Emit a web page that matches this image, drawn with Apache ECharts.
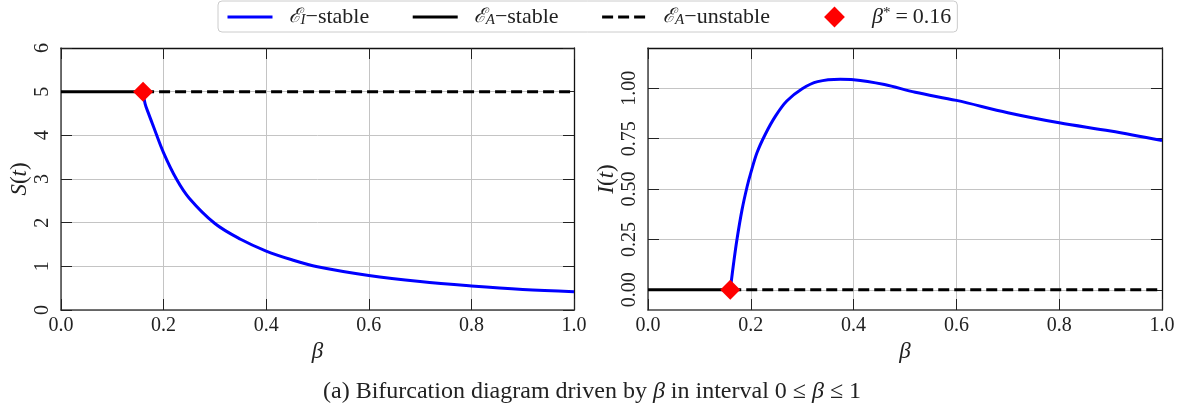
<!DOCTYPE html>
<html><head><meta charset="utf-8">
<script src="https://cdn.jsdelivr.net/npm/echarts@6/dist/echarts.min.js"></script>
<style>html,body{margin:0;padding:0;background:#fff}#c{width:1188px;height:408px}</style>
</head><body><div id="c"></div>
<script>
// ---- data ----
const betaStar = 0.16;
const sDiseaseFree = 5;     // S level of E_A
const iDiseaseFree = 0;     // I level of E_A
const sBeta   = [0.16, 0.164, 0.17, 0.18, 0.20, 0.225, 0.25, 0.30, 0.35, 0.40, 0.45, 0.50, 0.60, 0.70, 0.80, 0.90, 1.00];
const sValues = [5.00, 4.72, 4.52, 4.21, 3.60, 3.00, 2.56, 1.98, 1.62, 1.35, 1.15, 0.99, 0.79, 0.65, 0.55, 0.47, 0.42];
const iBeta   = [0.16, 0.1666, 0.173, 0.183, 0.193, 0.20, 0.212, 0.228, 0.248, 0.27, 0.30, 0.33, 0.374, 0.40, 0.46, 0.52, 0.60, 0.70, 0.80, 0.90, 1.00];
const iValues = [0.00, 0.133, 0.249, 0.398, 0.514, 0.58, 0.68, 0.771, 0.862, 0.937, 0.998, 1.033, 1.045, 1.043, 1.019, 0.98, 0.94, 0.879, 0.829, 0.788, 0.741];
const xTicks = [0, 0.2, 0.4, 0.6, 0.8, 1.0];
const sTicks = [0, 1, 2, 3, 4, 5, 6];
const iTicks = [0, 0.25, 0.5, 0.75, 1.0];

// ---- chart ----
const FF = '"Liberation Serif", "DejaVu Serif", serif';
const TXT = '#222';
const GRIDC = '#c4c4c4';

function bottomX(grid) {
  return {
    type: 'value', gridIndex: grid, position: 'bottom',
    min: xTicks[0], max: xTicks[xTicks.length - 1], interval: 0.2,
    axisLine: { show: true, onZero: false, lineStyle: { color: '#444', width: 1.5 } },
    axisTick: { show: true, inside: true, length: 11, lineStyle: { color: '#222', width: 1 } },
    axisLabel: { margin: 6, fontFamily: FF, fontSize: 20, color: TXT, formatter: v => v.toFixed(1) },
    splitLine: { show: true, lineStyle: { color: GRIDC, width: 1 } },
    name: 'β', nameLocation: 'middle', nameGap: 28,
    nameTextStyle: { fontFamily: FF, fontStyle: 'italic', fontSize: 23, color: TXT }
  };
}
function topX(grid) {
  return {
    type: 'value', gridIndex: grid, position: 'top',
    min: xTicks[0], max: xTicks[xTicks.length - 1], interval: 0.2,
    axisLine: { show: true, onZero: false, lineStyle: { color: '#111', width: 1.3 } },
    axisTick: { show: true, inside: true, length: 11, lineStyle: { color: '#222', width: 1 } },
    axisLabel: { show: false }, splitLine: { show: false }
  };
}
function yPair(grid, min, max, ticks, fmt, nameRich) {
  const common = {
    type: 'value', gridIndex: grid, min: min, max: max,
    axisTick: { show: true, inside: true, length: 11, lineStyle: { color: '#222', width: 1 }, customValues: ticks },
  };
  return [
    Object.assign({}, common, {
      position: 'left',
      axisLine: { show: true, onZero: false, lineStyle: { color: '#444', width: 1.5 } },
      axisLabel: { customValues: ticks, rotate: 90, margin: 8, fontFamily: FF, fontSize: 20, color: TXT, formatter: fmt },
      splitLine: { show: true, lineStyle: { color: GRIDC, width: 1 } },
      name: nameRich, nameLocation: 'middle', nameGap: 30, nameRotate: 90,
      nameTextStyle: { fontFamily: FF, fontSize: 23, color: TXT, rich: { i: { fontFamily: FF, fontSize: 23, fontStyle: 'italic', color: TXT } } }
    }),
    Object.assign({}, common, {
      position: 'right',
      axisLine: { show: true, onZero: false, lineStyle: { color: '#111', width: 1.3 } },
      axisLabel: { show: false }, splitLine: { show: false }
    })
  ];
}

const ySets = [
  ...yPair(0, sTicks[0], sTicks[sTicks.length - 1], sTicks, v => String(v), '{i|S}({i|t})'),
  ...yPair(1, -0.1, 1.2, iTicks, v => v.toFixed(2), '{i|I}({i|t})')
];

function seriesFor(xIdx, yIdx, level, bs, vs) {
  return [
    { type: 'line', name: 'EA_stable', xAxisIndex: xIdx, yAxisIndex: yIdx,
      data: [[0, level], [betaStar, level]], symbol: 'none', color: '#000',
      itemStyle: { opacity: 0 },
      lineStyle: { color: '#000', width: 3 }, z: 3 },
    { type: 'line', name: 'EA_unstable', xAxisIndex: xIdx, yAxisIndex: yIdx,
      data: [[betaStar, level], [1, level]], symbol: 'none', color: '#000',
      itemStyle: { opacity: 0 },
      lineStyle: { color: '#000', width: 3, type: [11, 5] }, z: 3 },
    { type: 'line', name: 'EI_stable', xAxisIndex: xIdx, yAxisIndex: yIdx,
      data: bs.map((b, i) => [b, vs[i]]), symbol: 'none', smooth: 0.35, color: '#0000ff',
      itemStyle: { opacity: 0 },
      lineStyle: { color: '#0000ff', width: 3 }, z: 4 },
    { type: 'line', name: 'beta_star', xAxisIndex: xIdx, yAxisIndex: yIdx,
      data: [[betaStar, level]], symbol: 'diamond', symbolSize: 20, showSymbol: true, color: '#ff0000',
      itemStyle: { color: '#ff0000', opacity: 1 }, lineStyle: { opacity: 0, width: 0 }, z: 6 }
  ];
}

const legendLabel = {
  EI_stable: '{c|ℰ}{s|I}−stable',
  EA_stable: '{c|ℰ}{s|A}−stable',
  EA_unstable: '{c|ℰ}{s|A}−unstable',
  beta_star: '{b|β}{p|*}{e|=}0.16'
};

const option = {
  animation: false,
  backgroundColor: '#fff',
  title: {
    text: '(a) Bifurcation diagram driven by {i|β} in interval 0 ≤ {i|β} ≤ 1',
    left: 318, top: 375,
    textStyle: { fontFamily: FF, fontSize: 24, fontWeight: 'normal', color: TXT,
      rich: { i: { fontFamily: FF, fontSize: 24, fontStyle: 'italic', color: TXT } } }
  },
  legend: {
    data: [
      { name: 'EI_stable', itemStyle: { opacity: 0 } },
      { name: 'EA_stable', itemStyle: { opacity: 0 } },
      { name: 'EA_unstable', itemStyle: { opacity: 0 } },
      { name: 'beta_star', itemStyle: { opacity: 1, color: '#ff0000' }, lineStyle: { opacity: 0, width: 0 } }
    ],
    left: 218, top: 1, itemWidth: 45, itemHeight: 26, itemGap: 42,
    padding: [5, 6, 4, 8], borderColor: '#cccccc', borderWidth: 1, borderRadius: 4,
    lineStyle: { width: 3 },
    formatter: n => legendLabel[n],
    textStyle: { fontFamily: FF, fontSize: 22, color: TXT,
      rich: {
        c: { fontFamily: '"DejaVu Serif", serif', fontStyle: 'italic', fontSize: 20, color: TXT, padding: [0, 0, 0, 11] },
        s: { fontFamily: FF, fontStyle: 'italic', fontSize: 15, color: TXT, verticalAlign: 'bottom', lineHeight: 15 },
        b: { fontFamily: FF, fontStyle: 'italic', fontSize: 22, color: TXT, padding: [0, 0, 0, 10] },
        p: { fontFamily: FF, fontSize: 15, color: TXT, verticalAlign: 'top', lineHeight: 15 },
        e: { fontFamily: FF, fontSize: 22, color: TXT, padding: [0, 5, 0, 5] }
      } }
  },
  grid: [
    { left: 61, top: 48, width: 513, height: 262, containLabel: false },
    { left: 648, top: 48, width: 514, height: 262, containLabel: false }
  ],
  xAxis: [bottomX(0), topX(0), bottomX(1), topX(1)],
  yAxis: ySets,
  series: [
    ...seriesFor(0, 0, sDiseaseFree, sBeta, sValues),
    ...seriesFor(2, 2, iDiseaseFree, iBeta, iValues)
  ]
};

const chart = echarts.init(document.getElementById('c'), null, { renderer: 'canvas' });
chart.setOption(option);
</script>
</body></html>
